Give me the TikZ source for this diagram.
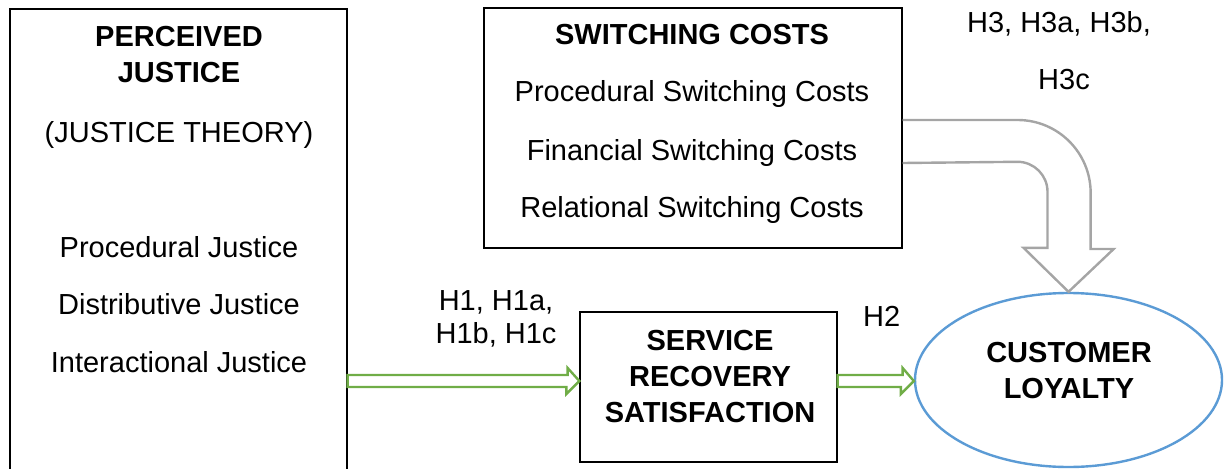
\documentclass[tikz,border=0pt]{standalone}
\usepackage{fontspec}
\setmainfont{Liberation Sans}
\usepackage{tikz}
\usepackage{xcolor}
\usetikzlibrary{shapes.geometric, calc}
\definecolor{Arrow_Green}{HTML}{70AD47}
\definecolor{Arrow_Grey}{HTML}{A5A5A5}
\definecolor{Loyalty_Blue}{HTML}{5B9BD5}

\begin{document}
\begin{tikzpicture}[x=1pt, y=-1pt,
  every node/.style={font=\fontsize{29}{34}\selectfont, inner sep=0pt},
  box/.style={draw, line width=1.3pt, rectangle},
  txt/.style={anchor=base},
  head/.style={anchor=base, font=\fontsize{29}{34}\selectfont\bfseries},
  gainarrow/.style={draw=Arrow_Green, line width=2.4pt, line join=miter},
  costarrow/.style={draw=Arrow_Grey, line width=2.4pt, line join=miter}]
\useasboundingbox (0,0) rectangle (1230,468);
% Boxes
\node[box, minimum width=337pt, minimum height=520pt] (justice) at (178.5,269) {};
\node[box, minimum width=418pt, minimum height=240pt] (costs) at (693,128) {};
\node[box, minimum width=257pt, minimum height=150pt] (recovery) at (708.5,387) {};
\node[ellipse, draw=Loyalty_Blue, line width=2.4pt, minimum width=307pt, minimum height=174pt] (loyalty) at (1068.5,380) {};
% Perceived justice
\node[head] (pjtitle) at (179,47) {PERCEIVED};
\node[head] (pjtitleb) at (179,83) {JUSTICE};
\node[txt] (pjtheory) at (179,142) {(JUSTICE THEORY)};
\node[txt] (pjproc) at (179,257) {Procedural Justice};
\node[txt] (pjdist) at (179,314) {Distributive Justice};
\node[txt] (pjinter) at (179,372) {Interactional Justice};
% Switching costs
\node[head] (sctitle) at (692,45) {SWITCHING COSTS};
\node[txt] (scproc) at (692,102) {Procedural Switching Costs};
\node[txt] (scfin) at (692,160) {Financial Switching Costs};
\node[txt] (screl) at (692,217) {Relational Switching Costs};
% Service recovery satisfaction
\node[head] (srs) at (710,350) {SERVICE};
\node[head] (srsb) at (710,386) {RECOVERY};
\node[head] (srsc) at (710,422) {SATISFACTION};
% Customer loyalty
\node[head] (cl) at (1069,362) {CUSTOMER};
\node[head] (clb) at (1069,398) {LOYALTY};
% Hypotheses
\node[txt] (hone) at (496,310) {H1, H1a,};
\node[txt] (honeb) at (496,343) {H1b, H1c};
\node[txt, anchor=base west] (htwo) at (863,326) {H2};
\node[txt] (hthree) at (1059,33) {H3, H3a, H3b,};
\node[txt] (hthreeb) at (1064,90) {H3c};
% Block arrows
\draw[gainarrow] (justice.east |- 0,375) -- ++(220,0) -- ++(0,-7) -- (recovery.west |- 0,381)
  -- ++(-13,13) -- ++(0,-7) -- (justice.east |- 0,387) -- cycle;
\draw[gainarrow] (recovery.east |- 0,375) -- ++(65,0) -- ++(0,-7) -- (loyalty.west |- 0,381)
  -- ++(-13,13) -- ++(0,-7) -- (recovery.east |- 0,387) -- cycle;
\draw[costarrow] (costs.east |- 0,120) -- ++(115,0) arc[start angle=-90, end angle=0, radius=73]
  -- ++(0,56) -- ++(23,0) -- (loyalty.north) -- ++(-45,-44) -- ++(24,0) -- ++(0,-56)
  arc[start angle=0, end angle=-90, radius=30] -- (costs.east |- 0,163);
\end{tikzpicture}
\end{document}
